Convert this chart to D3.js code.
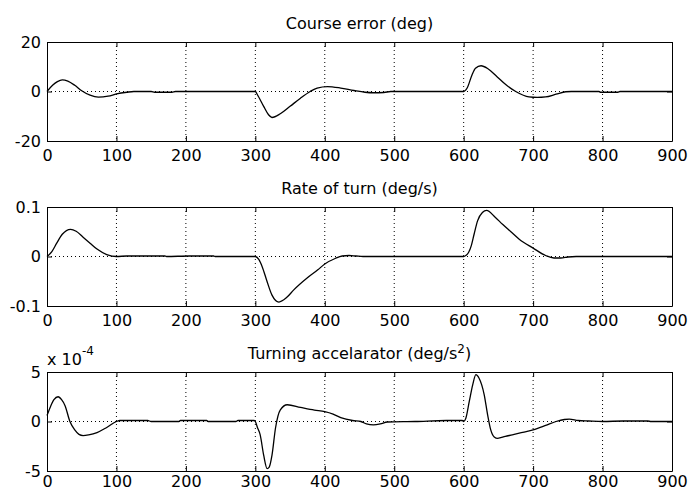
<!DOCTYPE html>
<html>
<head>
<meta charset="utf-8">
<script src="https://cdn.jsdelivr.net/npm/d3@7"></script>
<style>
  body { margin: 0; background: #fff; }
  svg { display: block; }
</style>
</head>
<body>
<svg id="chart" width="689" height="493"></svg>
<script>
// data
const xTicks = [0, 100, 200, 300, 400, 500, 600, 700, 800, 900];

const courseT = [0, 8, 15, 22, 30, 40, 50, 62, 74, 88, 100, 115, 125, 150, 155, 180, 185, 300, 303, 312, 319, 324, 336, 350, 365, 379, 389, 404, 423, 442, 458, 470, 485, 495, 600, 605, 612, 617, 625, 635, 648, 661, 675, 694, 706, 718, 733, 747, 755, 795, 797, 822, 825, 900];
const courseErr = [0, 2.5, 4.0, 4.7, 4.2, 2.5, 0.3, -1.5, -2.3, -1.9, -1.0, -0.3, 0, 0, -0.3, -0.3, 0, 0, -1.3, -6, -9.4, -10.5, -9, -6, -2.7, 0, 1.4, 2.0, 1.4, 0.4, -0.3, -0.5, -0.4, 0, 0, 1.4, 6.7, 9.4, 10.4, 9.2, 6, 2.7, 0, -2.2, -2.4, -2.2, -1.1, -0.1, 0, 0, -0.3, -0.3, 0, 0];

const rateT = [0, 7, 14, 22, 34, 42, 52, 62, 72, 86, 100, 115, 170, 172, 205, 240, 242, 300, 305, 310, 317, 324, 334, 345, 355, 375, 390, 400, 415, 425, 435, 445, 455, 600, 603, 607, 611, 615, 620, 627, 633, 645, 656, 668, 680, 700, 718, 730, 740, 750, 762, 900];
const rateTurn = [0, 0.01, 0.027, 0.045, 0.055, 0.051, 0.039, 0.027, 0.015, 0.004, 0, 0.001, 0.001, 0, 0.001, 0.001, 0, 0, -0.006, -0.021, -0.051, -0.078, -0.092, -0.083, -0.068, -0.043, -0.027, -0.015, -0.004, 0.001, 0.002, 0.001, 0, 0, 0.002, 0.008, 0.022, 0.045, 0.072, 0.089, 0.093, 0.08, 0.065, 0.05, 0.035, 0.017, 0.002, -0.003, -0.003, -0.001, 0, 0];

// turning acceleration, in units of 1e-4
const accExp = -4;
const accT = [0, 5, 10, 16, 21, 26, 33, 40, 46, 52, 60, 72, 86, 100, 105, 145, 150, 190, 192, 230, 232, 272, 275, 298, 300, 303, 307, 312, 317, 320, 324, 329, 336, 346, 365, 385, 400, 412, 423, 440, 452, 460, 470, 480, 490, 530, 575, 598, 600, 603, 608, 613, 617.6, 622, 629.6, 634.5, 639, 644, 649, 660, 670, 685, 700, 718, 733, 745, 752, 765, 780, 800, 830, 865, 870, 900];
const turnAcc = [0.6, 1.5, 2.2, 2.5, 2.2, 1.6, 0, -0.85, -1.3, -1.42, -1.35, -1.12, -0.6, 0, 0.1, 0.1, 0, 0, 0.1, 0.1, 0, 0, 0.1, 0.1, 0, -0.6, -1.35, -3.4, -4.75, -4.6, -3.4, -0.68, 1.18, 1.69, 1.42, 1.15, 1.0, 0.75, 0.4, 0.1, 0, -0.25, -0.35, -0.25, -0.05, 0, 0.1, 0.1, 0, 0.3, 2.0, 3.7, 4.73, 4.4, 2.7, 0.67, -0.85, -1.56, -1.7, -1.5, -1.35, -1.1, -0.85, -0.4, 0, 0.2, 0.23, 0.1, 0.05, 0, 0.05, 0.05, 0, 0];

const panels = [
    { title: "Course error (deg)", t: courseT, v: courseErr, domain: [-20, 20], yTicks: [-20, 0, 20], pad: 8.6 },
    { title: "Rate of turn (deg/s)", t: rateT, v: rateTurn, domain: [-0.1, 0.1], yTicks: [-0.1, 0, 0.1], pad: 8.6 },
    { title: "Turning accelarator (deg/s", sup: "2", t: accT, v: turnAcc, domain: [-5, 5], yTicks: [-5, 0, 5], exp: accExp, pad: 4.5 }
];

const svg = d3.select("#chart");
const font = "'DejaVu Sans', sans-serif";
const left = 47, right = 672, plotH = 99;
const tops = [42, 207, 372];
const innerW = right - left;

const x = d3.scaleLinear().domain([0, 900]).range([0, innerW]);

panels.forEach((p, i) => {
    const g = svg.append("g").attr("transform", `translate(${left},${tops[i]})`);
    const y = d3.scaleLinear().domain(p.domain).range([plotH, 0]);

    // dotted grid
    g.selectAll(".vgrid")
        .data(xTicks.slice(1, -1))
        .join("line")
        .attr("x1", d => x(d)).attr("x2", d => x(d))
        .attr("y1", 0).attr("y2", plotH)
        .attr("stroke", "#000")
        .attr("stroke-width", 1)
        .attr("stroke-dasharray", "1,3");

    g.selectAll(".hgrid")
        .data(p.yTicks.slice(1, -1))
        .join("line")
        .attr("x1", 0).attr("x2", innerW)
        .attr("y1", d => y(d)).attr("y2", d => y(d))
        .attr("stroke", "#000")
        .attr("stroke-width", 1)
        .attr("stroke-dasharray", "1,3");

    // axes, matlab style: ticks inward on all four sides
    const bottom = g.append("g")
        .attr("transform", `translate(0,${plotH})`)
        .call(d3.axisBottom(x).tickValues(xTicks).tickSizeInner(-5).tickSizeOuter(0).tickPadding(p.pad));
    const top = g.append("g")
        .call(d3.axisTop(x).tickValues(xTicks).tickSizeInner(-5).tickSizeOuter(0).tickFormat(""));
    const leftAx = g.append("g")
        .call(d3.axisLeft(y).tickValues(p.yTicks).tickSizeInner(-5).tickSizeOuter(0).tickPadding(6).tickFormat(d => d));
    const rightAx = g.append("g")
        .attr("transform", `translate(${innerW},0)`)
        .call(d3.axisRight(y).tickValues(p.yTicks).tickSizeInner(-5).tickSizeOuter(0).tickFormat(""));

    [bottom, top, leftAx, rightAx].forEach(a => {
        a.attr("font-family", font).attr("font-size", 16);
        a.select(".domain").attr("stroke", "#000").attr("stroke-width", 1);
        a.selectAll(".tick line").attr("stroke", "#000");
        a.selectAll(".tick text").attr("fill", "#000");
    });

    // title
    const title = g.append("text")
        .attr("x", innerW / 2)
        .attr("y", -13)
        .attr("text-anchor", "middle")
        .attr("font-family", font)
        .attr("font-size", 16)
        .attr("fill", "#000")
        .text(p.title);
    if (p.sup) {
        title.append("tspan").attr("font-size", 12).attr("dy", -6).text(p.sup);
        title.append("tspan").attr("dy", 6).text(")");
    }

    // exponent label
    if (p.exp !== undefined) {
        const ex = g.append("text")
            .attr("x", 0)
            .attr("y", -7.5)
            .attr("font-family", font)
            .attr("font-size", 16)
            .attr("fill", "#000")
            .text("x 10");
        ex.append("tspan").attr("font-size", 12).attr("dy", -10).text(p.exp);
    }

    const line = d3.line()
        .x((d, j) => x(p.t[j]))
        .y(d => y(d))
        .curve(d3.curveMonotoneX);

    g.append("path")
        .datum(p.v)
        .attr("fill", "none")
        .attr("stroke", "#000")
        .attr("stroke-width", 1.3)
        .attr("d", line);
});
</script>
</body>
</html>
